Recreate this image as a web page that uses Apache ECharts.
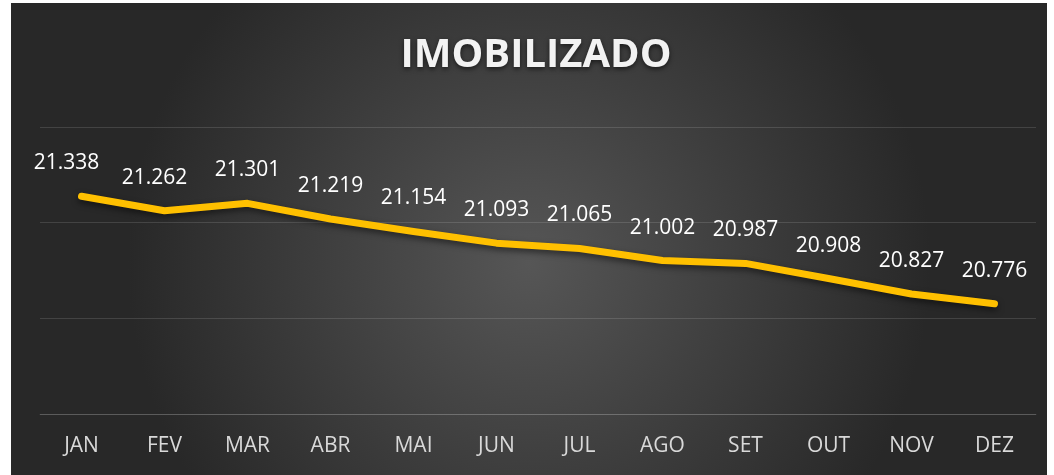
<!DOCTYPE html>
<html>
<head>
<meta charset="utf-8">
<title>IMOBILIZADO</title>
<script src="https://cdn.jsdelivr.net/npm/echarts@6/dist/echarts.min.js"></script>
<style>
  html, body { margin: 0; padding: 0; background: #fff; }
  #chart { position: absolute; left: 11px; top: 3px; width: 1036px; height: 472px; }
</style>
</head>
<body>
<div id="chart"></div>
<script>
// dados
const months = ['JAN', 'FEV', 'MAR', 'ABR', 'MAI', 'JUN', 'JUL', 'AGO', 'SET', 'OUT', 'NOV', 'DEZ']
const values = [21.338, 21.262, 21.301, 21.219, 21.154, 21.093, 21.065, 21.002, 20.987, 20.908, 20.827, 20.776]
// deslocamento horizontal dos rótulos (JAN e FEV estão puxados para a esquerda)
const labelShiftX = [-15, -10, 0, 0, 0, 0, 0, 0, 0, 0, 0, 0]

const chart = echarts.init(document.getElementById('chart'))

const seriesData = values.map((v, i) => ({
  value: v,
  label: { offset: [labelShiftX[i], 0] }
}))

const option = {
  backgroundColor: {
    type: 'radial',
    x: 0.5, y: 0.55, r: 0.85,
    colorStops: [
      { offset: 0, color: '#565656' },
      { offset: 1, color: '#282828' }
    ]
  },
  animation: false,
  title: {
    text: 'IMOBILIZADO',
    left: 520,
    top: 28,
    textAlign: 'center',
    textStyle: {
      fontFamily: 'Open Sans',
      fontWeight: 'bold',
      fontSize: 40,
      color: '#f2f2f2',
      textShadowColor: 'rgba(0,0,0,0.6)',
      textShadowBlur: 5,
      textShadowOffsetY: 2
    }
  },
  grid: { left: 29, right: 11, top: 124, bottom: 61 },
  xAxis: {
    type: 'category',
    data: months,
    boundaryGap: true,
    axisLine: { show: true, lineStyle: { color: 'rgba(255,255,255,0.13)', width: 1 } },
    axisTick: { show: false },
    axisLabel: {
      color: '#d9d9d9',
      fontFamily: 'Open Sans',
      fontSize: 21,
      margin: 22
    }
  },
  yAxis: {
    type: 'value',
    min: 20.2,
    max: 21.7,
    interval: 0.5,
    axisLine: { show: false },
    axisTick: { show: false },
    axisLabel: { show: false },
    splitLine: { lineStyle: { color: 'rgba(255,255,255,0.13)', width: 1 } }
  },
  series: [{
    type: 'line',
    data: seriesData,
    symbol: 'circle',
    symbolSize: 1,
    showSymbol: true,
    itemStyle: { color: 'rgba(0,0,0,0)' },
    lineStyle: {
      color: '#ffc000',
      width: 7,
      cap: 'round',
      join: 'round',
      shadowColor: 'rgba(0,0,0,0.5)',
      shadowBlur: 6,
      shadowOffsetY: 3
    },
    label: {
      show: true,
      position: 'top',
      distance: 22,
      color: '#ffffff',
      fontFamily: 'Open Sans',
      fontSize: 21,
      formatter: p => p.value.toFixed(3)
    }
  }]
}

chart.setOption(option)
</script>
</body>
</html>
